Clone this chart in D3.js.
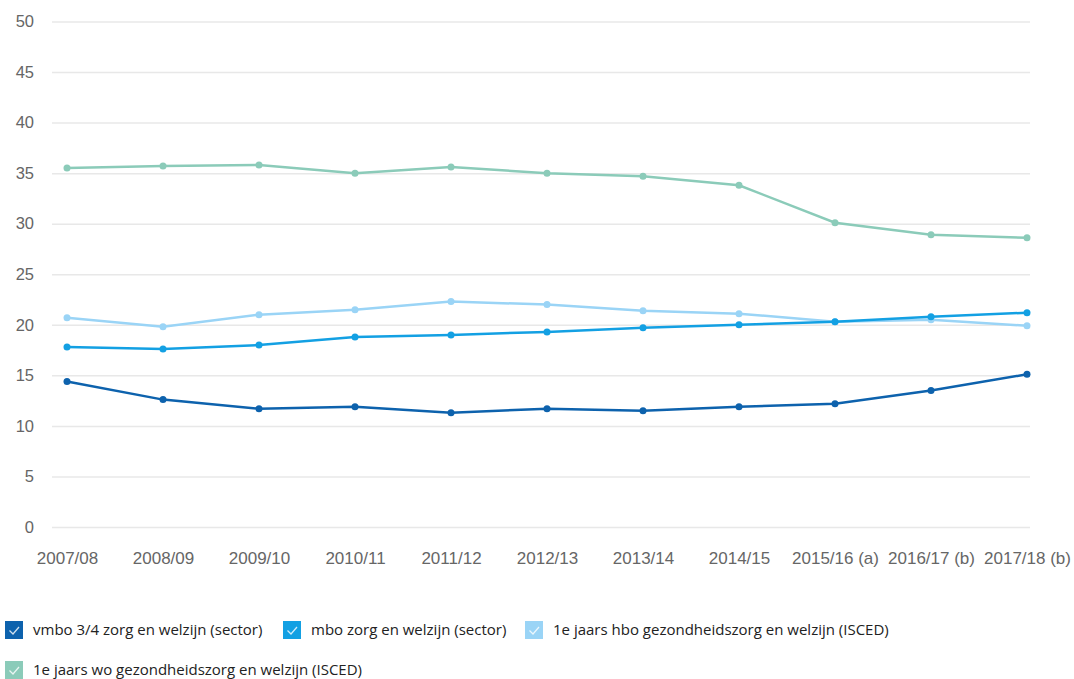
<!DOCTYPE html>
<html><head><meta charset="utf-8">
<script src="https://cdn.jsdelivr.net/npm/d3@7"></script>
<style>
body{margin:0;background:#fff;}
svg{display:block;font-family:"Open Sans",sans-serif;}
</style></head><body>
<svg id="c" width="1074" height="679"></svg>
<script>
const categories = ["2007/08","2008/09","2009/10","2010/11","2011/12","2012/13","2013/14","2014/15","2015/16 (a)","2016/17 (b)","2017/18 (b)"];
const seriesNames = ["vmbo 3/4 zorg en welzijn (sector)","mbo zorg en welzijn (sector)","1e jaars hbo gezondheidszorg en welzijn (ISCED)","1e jaars wo gezondheidszorg en welzijn (ISCED)"];
const vmbo = [14.4,12.6,11.7,11.9,11.3,11.7,11.5,11.9,12.2,13.5,15.1];
const mbo  = [17.8,17.6,18.0,18.8,19.0,19.3,19.7,20.0,20.3,20.8,21.2];
const hbo  = [20.7,19.8,21.0,21.5,22.3,22.0,21.4,21.1,20.3,20.5,19.9];
const wo   = [35.5,35.7,35.8,35.0,35.6,35.0,34.7,33.8,30.1,28.9,28.6];
const yTicks = [0,5,10,15,20,25,30,35,40,45,50];
const colors = ["#0d62ad","#13a0e3","#9ad4f6","#8bcbb9"];

const series = [vmbo, mbo, hbo, wo];
const svg = d3.select("#c");
const x = d3.scalePoint().domain(categories).range([67,1027]);
const y = d3.scaleLinear().domain([0,50]).range([527,21.5]);

// grid
const yAxis = d3.axisLeft(y).tickValues(yTicks).tickSize(-(1030-52)).tickPadding(18).tickFormat(d3.format("d"));
const gy = svg.append("g").attr("transform","translate(52,0)").call(yAxis);
gy.select(".domain").remove();
gy.selectAll(".tick line").attr("stroke","#e8e8e8").attr("stroke-width",1.5);
gy.selectAll(".tick text").attr("fill","#666").style("font-size","16.5px");

const xAxis = d3.axisBottom(x).tickSize(0).tickPadding(0);
const gx = svg.append("g").attr("transform","translate(0,550)").call(xAxis);
gx.select(".domain").remove();
gx.selectAll(".tick text").attr("fill","#666").style("font-size","17px").attr("dy","0.85em");

const line = d3.line().x((d,i)=>x(categories[i])).y(d=>y(d));
// draw order: wo, hbo, mbo, vmbo (vmbo on top)
[3,2,1,0].forEach(k=>{
  svg.append("path").datum(series[k]).attr("d",line).attr("fill","none")
    .attr("stroke",colors[k]).attr("stroke-width",2.5);
  svg.append("g").selectAll("circle").data(series[k]).join("circle")
    .attr("cx",(d,i)=>x(categories[i])).attr("cy",d=>y(d)).attr("r",3.5).attr("fill",colors[k]);
});

// legend
const legendPos = [[5,621],[283,621],[525,621],[5,661]];
seriesNames.forEach((name,k)=>{
  const g = svg.append("g").attr("transform",`translate(${legendPos[k][0]},${legendPos[k][1]})`);
  g.append("rect").attr("width",18).attr("height",18).attr("fill",colors[k]);
  g.append("path").attr("d","M4.5 9.5 L8 13 L14 6").attr("fill","none").attr("stroke","#fff").attr("stroke-width",1.3).attr("opacity",0.8);
  g.append("text").attr("x",28).attr("y",14).text(name).attr("fill","#222").style("font-size","15px");
});
</script>
</body></html>
